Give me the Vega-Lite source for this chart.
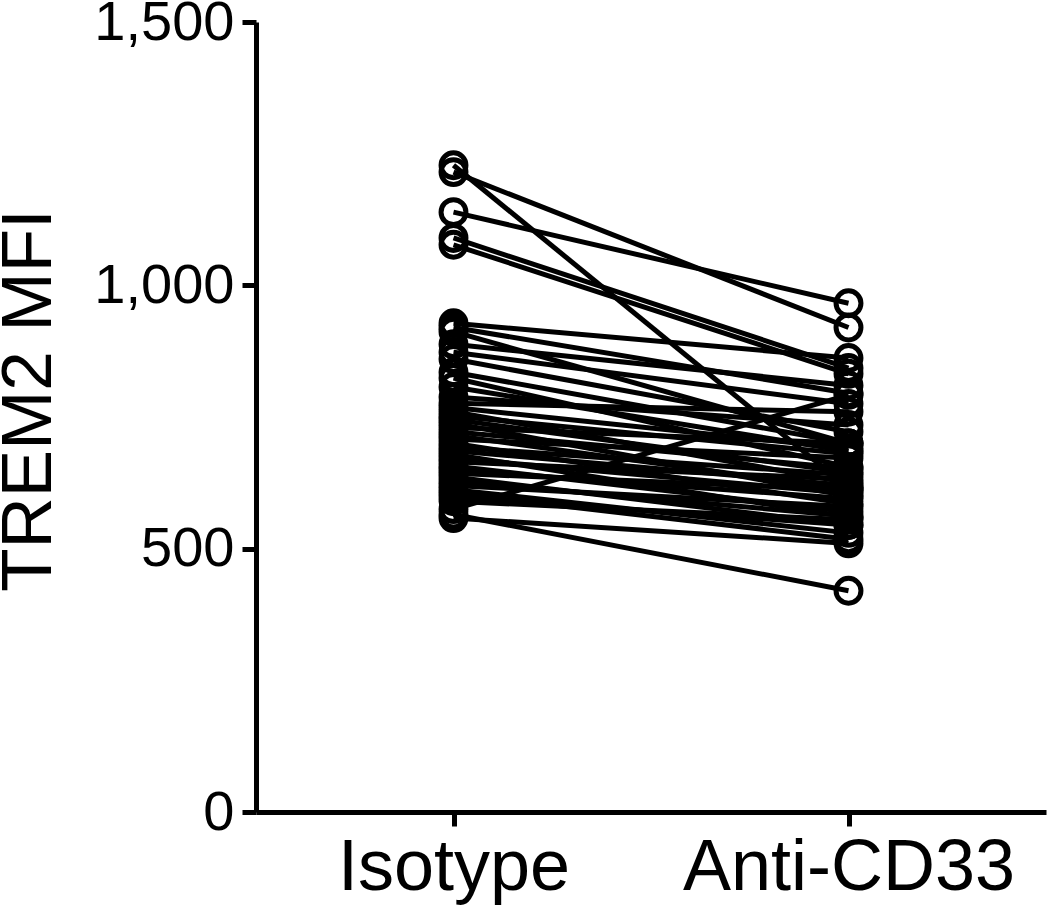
{
  "$schema": "https://vega.github.io/schema/vega-lite/v6.json",
  "autosize": {"type": "none"},
  "width": 790,
  "height": 790,
  "padding": {"left": 256, "top": 22, "right": 4, "bottom": 103},
  "background": "white",
  "config": {
    "view": {"stroke": null},
    "font": "Liberation Sans",
    "axis": {"grid": false, "domainColor": "black", "tickColor": "black", "labelColor": "black", "titleColor": "black", "domainWidth": 5, "tickWidth": 5, "labelFont": "Liberation Sans", "titleFont": "Liberation Sans", "labelLimit": 0}
  },
  "data": {"values": [
    {"id": 1, "g": "Isotype", "v": 1228}, {"id": 1, "g": "Anti-CD33", "v": 615},
    {"id": 2, "g": "Isotype", "v": 1215}, {"id": 2, "g": "Anti-CD33", "v": 920},
    {"id": 3, "g": "Isotype", "v": 1139}, {"id": 3, "g": "Anti-CD33", "v": 966},
    {"id": 4, "g": "Isotype", "v": 1090}, {"id": 4, "g": "Anti-CD33", "v": 843},
    {"id": 5, "g": "Isotype", "v": 1077}, {"id": 5, "g": "Anti-CD33", "v": 832},
    {"id": 6, "g": "Isotype", "v": 928}, {"id": 6, "g": "Anti-CD33", "v": 862},
    {"id": 7, "g": "Isotype", "v": 920}, {"id": 7, "g": "Anti-CD33", "v": 795},
    {"id": 8, "g": "Isotype", "v": 912}, {"id": 8, "g": "Anti-CD33", "v": 700},
    {"id": 9, "g": "Isotype", "v": 888}, {"id": 9, "g": "Anti-CD33", "v": 810},
    {"id": 10, "g": "Isotype", "v": 873}, {"id": 10, "g": "Anti-CD33", "v": 775},
    {"id": 11, "g": "Isotype", "v": 860}, {"id": 11, "g": "Anti-CD33", "v": 722},
    {"id": 12, "g": "Isotype", "v": 835}, {"id": 12, "g": "Anti-CD33", "v": 700},
    {"id": 13, "g": "Isotype", "v": 824}, {"id": 13, "g": "Anti-CD33", "v": 655},
    {"id": 14, "g": "Isotype", "v": 807}, {"id": 14, "g": "Anti-CD33", "v": 685},
    {"id": 15, "g": "Isotype", "v": 788}, {"id": 15, "g": "Anti-CD33", "v": 735},
    {"id": 16, "g": "Isotype", "v": 776}, {"id": 16, "g": "Anti-CD33", "v": 760},
    {"id": 17, "g": "Isotype", "v": 768}, {"id": 17, "g": "Anti-CD33", "v": 690},
    {"id": 18, "g": "Isotype", "v": 760}, {"id": 18, "g": "Anti-CD33", "v": 625},
    {"id": 19, "g": "Isotype", "v": 752}, {"id": 19, "g": "Anti-CD33", "v": 680},
    {"id": 20, "g": "Isotype", "v": 745}, {"id": 20, "g": "Anti-CD33", "v": 645},
    {"id": 21, "g": "Isotype", "v": 738}, {"id": 21, "g": "Anti-CD33", "v": 600},
    {"id": 22, "g": "Isotype", "v": 730}, {"id": 22, "g": "Anti-CD33", "v": 700},
    {"id": 23, "g": "Isotype", "v": 722}, {"id": 23, "g": "Anti-CD33", "v": 652},
    {"id": 24, "g": "Isotype", "v": 715}, {"id": 24, "g": "Anti-CD33", "v": 612},
    {"id": 25, "g": "Isotype", "v": 708}, {"id": 25, "g": "Anti-CD33", "v": 672},
    {"id": 26, "g": "Isotype", "v": 700}, {"id": 26, "g": "Anti-CD33", "v": 585},
    {"id": 27, "g": "Isotype", "v": 693}, {"id": 27, "g": "Anti-CD33", "v": 640},
    {"id": 28, "g": "Isotype", "v": 686}, {"id": 28, "g": "Anti-CD33", "v": 620},
    {"id": 29, "g": "Isotype", "v": 679}, {"id": 29, "g": "Anti-CD33", "v": 560},
    {"id": 30, "g": "Isotype", "v": 672}, {"id": 30, "g": "Anti-CD33", "v": 605},
    {"id": 31, "g": "Isotype", "v": 665}, {"id": 31, "g": "Anti-CD33", "v": 632},
    {"id": 32, "g": "Isotype", "v": 657}, {"id": 32, "g": "Anti-CD33", "v": 570},
    {"id": 33, "g": "Isotype", "v": 650}, {"id": 33, "g": "Anti-CD33", "v": 595},
    {"id": 34, "g": "Isotype", "v": 643}, {"id": 34, "g": "Anti-CD33", "v": 612},
    {"id": 35, "g": "Isotype", "v": 636}, {"id": 35, "g": "Anti-CD33", "v": 545},
    {"id": 36, "g": "Isotype", "v": 628}, {"id": 36, "g": "Anti-CD33", "v": 562},
    {"id": 37, "g": "Isotype", "v": 620}, {"id": 37, "g": "Anti-CD33", "v": 580},
    {"id": 38, "g": "Isotype", "v": 612}, {"id": 38, "g": "Anti-CD33", "v": 530},
    {"id": 39, "g": "Isotype", "v": 605}, {"id": 39, "g": "Anti-CD33", "v": 518},
    {"id": 40, "g": "Isotype", "v": 598}, {"id": 40, "g": "Anti-CD33", "v": 545},
    {"id": 41, "g": "Isotype", "v": 575}, {"id": 41, "g": "Anti-CD33", "v": 792},
    {"id": 42, "g": "Isotype", "v": 565}, {"id": 42, "g": "Anti-CD33", "v": 420},
    {"id": 43, "g": "Isotype", "v": 558}, {"id": 43, "g": "Anti-CD33", "v": 510},
    {"id": 44, "g": "Isotype", "v": 590}, {"id": 44, "g": "Anti-CD33", "v": 555}
  ]},
  "encoding": {
    "x": {
      "field": "g", "type": "nominal", "sort": ["Isotype", "Anti-CD33"],
      "scale": {"type": "point", "padding": 0.5},
      "axis": {"title": null, "labelAngle": 0, "labelFontSize": 72, "labelPadding": 6, "tickSize": 14}
    },
    "y": {
      "field": "v", "type": "quantitative",
      "scale": {"domain": [0, 1500], "nice": false, "zero": true},
      "axis": {"values": [0, 500, 1000, 1500], "format": ",d", "labelFontSize": 56, "labelPadding": 8, "tickSize": 14,
               "title": "TREM2 MFI", "titleFontSize": 71, "titleFontWeight": "normal", "titleAngle": -90,
               "titleX": -206, "titleY": 378, "titleBaseline": "alphabetic", "titleAlign": "center"}
    }
  },
  "layer": [
    {"mark": {"type": "line", "color": "black", "strokeWidth": 5}, "encoding": {"detail": {"field": "id", "type": "nominal"}}},
    {"mark": {"type": "point", "shape": "circle", "filled": false, "color": "black", "strokeWidth": 5, "size": 620, "opacity": 1}}
  ]
}
